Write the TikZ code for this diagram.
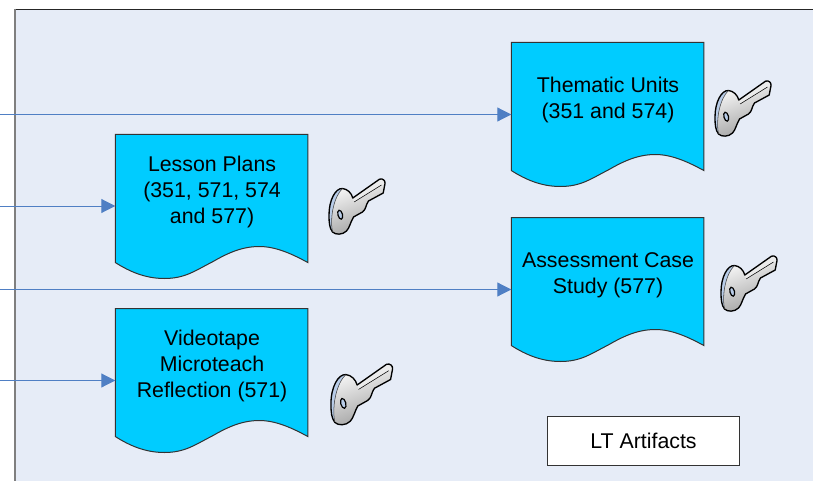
\documentclass[tikz,border=0pt]{standalone}
\usepackage{fontspec}
\setmainfont{Liberation Sans}
\usetikzlibrary{arrows.meta}
\definecolor{panelfill}{HTML}{E6ECF7}
\definecolor{docfill}{HTML}{00CCFF}
\definecolor{linkblue}{HTML}{4F7FC4}
\definecolor{edgegray}{HTML}{7F7F7F}
\definecolor{keyedge}{HTML}{B8CCE8}
\tikzset{
  doctext/.style={align=center,font=\fontsize{16}{19.5}\selectfont,text=black,inner sep=0pt},
  docbody/.style={fill=docfill,draw=black!80,line width=0.75pt},
  docanchor/.style={rectangle,minimum width=144.4pt,minimum height=108pt,inner sep=0pt,outer sep=0pt},
  link/.style={draw=linkblue,line width=0.75pt,-{Triangle[length=10.5pt,width=10.5pt,fill=linkblue]}},
  legendbox/.style={rectangle,draw=black!80,fill=white,line width=0.75pt,minimum width=144pt,minimum height=36.4pt,inner sep=0pt,font=\fontsize{16}{19.5}\selectfont},
  keyicon/.pic={
    \path[left color=white,right color=black!38,shading angle=20]
      (-0.5,37) .. controls (-0.5,22) and (6,10) .. (13,10.5)
      .. controls (18,11) and (22,15) .. (23.3,20) -- (50,1.2)
      .. controls (53,0) and (56,2.5) .. (55.5,5.5) -- (53.7,15) -- (39,23)
      .. controls (36,27) and (37,31) .. (33,34) -- (24,39)
      .. controls (21,44) and (20,50) .. (17,53)
      .. controls (13,57) and (6,57) .. (3,54)
      .. controls (0,50) and (-0.5,45) .. (-0.5,37) -- cycle;
    \path[fill=keyedge]
      (13,10.5) .. controls (6,10) and (-0.5,22) .. (-0.5,37)
      .. controls (-0.5,45) and (0,50) .. (3,54)
      .. controls (0,38) and (5,18) .. (13,10.5) -- cycle;
    \path[fill=black!8]
      (23.3,20) -- (50,1.2) .. controls (53,0) and (56,2.5) .. (55.5,5.5)
      -- (52,7) -- (24.6,24) -- cycle;
    \draw[black,line width=1pt,line join=round]
      (-0.5,37) .. controls (-0.5,22) and (6,10) .. (13,10.5)
      .. controls (18,11) and (22,15) .. (23.3,20) -- (50,1.2)
      .. controls (53,0) and (56,2.5) .. (55.5,5.5) -- (53.7,15) -- (39,23)
      .. controls (36,27) and (37,31) .. (33,34) -- (24,39)
      .. controls (21,44) and (20,50) .. (17,53)
      .. controls (13,57) and (6,57) .. (3,54)
      .. controls (0,50) and (-0.5,45) .. (-0.5,37) -- cycle;
    \draw[black!75,line width=0.4pt] (3,54) .. controls (0,38) and (5,18) .. (13,10.5);
    \draw[black,line width=0.4pt] (52,7) -- (24.6,24);
    \draw[black,line width=0.9pt,fill=keyedge] (10.7,36.7) ellipse [x radius=2.3,y radius=4.6,rotate=15];
  }
}
\newcommand{\docbox}[4]{%
  \path[docbody,shift={(#2,#3)}] (0,0) -- (192.5,0) -- (192.5,128)
    .. controls (176,119) and (160,112) .. (144,112)
    .. controls (125,112) and (110,120) .. (96,128)
    .. controls (80,136) and (70,144) .. (49,144)
    .. controls (30,144) and (14,137) .. (0,128) -- cycle;
  \node[docanchor] (#1) at (#2+96.25,#3+72) {};
  \node[doctext] (#1-text) at (#2+96.75,#3+57.5) {#4};
}
\begin{document}
\begin{tikzpicture}[x=0.75pt,y=-0.75pt]
  \useasboundingbox (0,0) rectangle (813,481);
  \fill[white] (0,0) rectangle (813,481);
  \fill[panelfill] (14.5,10) rectangle (813,481);
  \draw[black!85,line width=0.75pt] (14.5,9.5) -- (813,9.5);
  \draw[edgegray,line width=1.5pt] (14.5,9) -- (14.5,481);

  \docbox{thematic}{511.3}{42.5}{Thematic Units\\(351 and 574)}
  \docbox{lesson}{115.3}{134.5}{Lesson Plans\\(351, 571, 574\\and 577)}
  \docbox{assessment}{511.3}{217.5}{Assessment Case\\Study (577)}
  \docbox{video}{115.3}{308.5}{Videotape\\Microteach\\Reflection (571)}

  \coordinate (fromA) at (0,114.5);
  \coordinate (fromB) at (0,206);
  \coordinate (fromC) at (0,289.5);
  \coordinate (fromD) at (0,380.5);
  \draw[link] (fromA) -- (fromA -| thematic.west);
  \draw[link] (fromB) -- (fromB -| lesson.west);
  \draw[link] (fromC) -- (fromC -| assessment.west);
  \draw[link] (fromD) -- (fromD -| video.west);

  \pic at (715.5,80) {keyicon};
  \pic at (329.5,178) {keyicon};
  \pic at (721.5,255) {keyicon};
  \pic[scale=1.1] at (331.5,363) {keyicon};

  \node[legendbox] (legend) at (643.5,441) {\raisebox{1pt}{LT Artifacts}};
\end{tikzpicture}
\end{document}
